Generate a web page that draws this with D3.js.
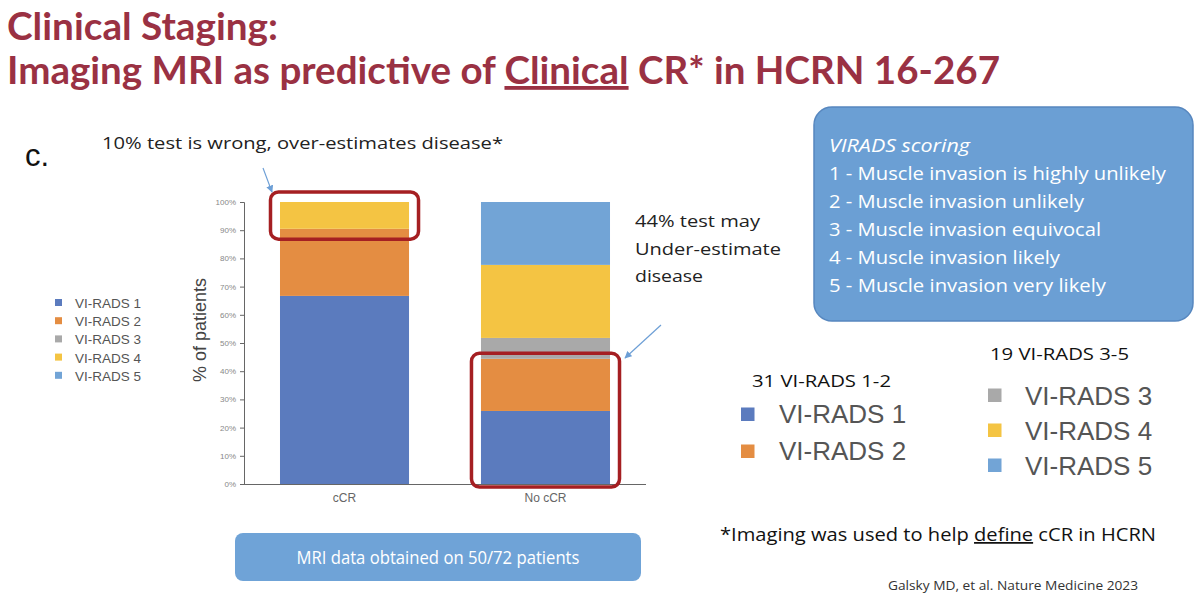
<!DOCTYPE html>
<html><head><meta charset="utf-8">
<script src="https://cdn.jsdelivr.net/npm/d3@7"></script>
<style>html,body{margin:0;padding:0;background:#fff;}svg{display:block;}</style>
</head><body>
<svg id="c" width="1200" height="597"></svg>
<script>
const categories = ["cCR", "No cCR"];
const seriesNames = ["VI-RADS 1", "VI-RADS 2", "VI-RADS 3", "VI-RADS 4", "VI-RADS 5"];
const vr1 = [66.7, 25.9];
const vr2 = [23.8, 18.5];
const vr3 = [0, 7.4];
const vr4 = [9.5, 25.9];
const vr5 = [0, 22.3];
const yTicks = [0,10,20,30,40,50,60,70,80,90,100];
const colors = ["#5b7bbe", "#e48d42", "#a9a9a9", "#f4c443", "#72a4d6"];
const virads = ["1 - Muscle invasion is highly unlikely","2 - Muscle invasion unlikely","3 - Muscle invasion equivocal","4 - Muscle invasion likely","5 - Muscle invasion very likely"];
const viradsWidths = [337, 255, 272, 231, 277];
const note2 = ["44% test may","Under-estimate","disease"];
const note2Widths = [125, 146, 68];

const svg = d3.select("#c");
const titleColor = "#9a3143";
const F = "'Lato', 'Open Sans', sans-serif";
const OS = "'Open Sans', 'Noto Sans', sans-serif";
const AR = "'Liberation Sans', Arial, sans-serif";

// Title
svg.append("text").attr("x",7).attr("y",40).attr("fill",titleColor)
  .attr("font-family",F).attr("font-weight","bold").attr("font-size",38)
  .attr("textLength",271).attr("lengthAdjust","spacingAndGlyphs").text("Clinical Staging:");
const t2 = svg.append("text").attr("x",7).attr("y",84).attr("fill",titleColor)
  .attr("font-family",F).attr("font-weight","bold").attr("font-size",38)
  .attr("textLength",993).attr("lengthAdjust","spacingAndGlyphs");
t2.append("tspan").text("Imaging MRI as predictive of ");
t2.append("tspan").attr("text-decoration","underline").text("Clinical");
t2.append("tspan").text(" CR* in HCRN 16-267");

// c.
svg.append("text").attr("x",25).attr("y",166).attr("font-family",AR)
  .attr("font-size",31).attr("fill","#111").text("c.");

// annotation 1
svg.append("text").attr("x",102).attr("y",149).attr("font-family",OS).attr("font-size",17)
  .attr("fill","#222").attr("textLength",401).attr("lengthAdjust","spacingAndGlyphs")
  .text("10% test is wrong, over-estimates disease*");

// Chart scales
const y = d3.scaleLinear().domain([0,100]).range([484,202]);
const xb = d3.scaleBand().domain(categories).range([179.5,710.5]).paddingInner(0.358).paddingOuter(0.5);

const data = categories.map((c,i)=>({cat:c, "VI-RADS 1":vr1[i], "VI-RADS 2":vr2[i], "VI-RADS 3":vr3[i], "VI-RADS 4":vr4[i], "VI-RADS 5":vr5[i]}));
const stack = d3.stack().keys(seriesNames)(data);

const g = svg.append("g");
stack.forEach((layer,li)=>{
  g.selectAll(null).data(layer).enter().append("rect")
    .attr("x",d=>xb(d.data.cat)).attr("width",xb.bandwidth())
    .attr("y",d=>y(d[1])).attr("height",d=>Math.max(0,y(d[0])-y(d[1])))
    .attr("fill",colors[li]);
});

const yAxis = svg.append("g").attr("transform","translate(244,0)")
  .call(d3.axisLeft(y).tickValues(yTicks).tickFormat(d=>d+"%").tickSize(4).tickPadding(4));
yAxis.select(".domain").attr("stroke","#666");
yAxis.selectAll(".tick line").attr("stroke","#666");
yAxis.selectAll("text").attr("font-family",AR).attr("font-size",8).attr("fill","#888");

const xAxis = svg.append("g").attr("transform","translate(0,484)")
  .call(d3.axisBottom(xb).tickSize(0).tickPadding(9));
xAxis.select(".domain").attr("stroke","#666").attr("d","M244,0.5H646");
xAxis.selectAll("text").attr("font-family",AR).attr("font-size",12).attr("fill","#666");

svg.append("text").attr("transform","translate(206,330) rotate(-90)").attr("text-anchor","middle")
  .attr("font-family",AR).attr("font-size",18).attr("fill","#444").text("% of patients");

// Red highlight boxes
const red = "#a51f22";
svg.append("rect").attr("x",xb("cCR")-9.5).attr("y",y(100)-10).attr("width",xb.bandwidth()+19).attr("height",y(90)-y(100)+19)
  .attr("rx",8).attr("fill","none").attr("stroke",red).attr("stroke-width",3.5);
svg.append("rect").attr("x",xb("No cCR")-9.5).attr("y",y(46)-1).attr("width",xb.bandwidth()+19).attr("height",y(0)-y(46)+4)
  .attr("rx",8).attr("fill","none").attr("stroke",red).attr("stroke-width",3.5);

// arrows
const defs = svg.append("defs");
defs.append("marker").attr("id","ah").attr("viewBox","0 0 10 10").attr("refX",9).attr("refY",5)
  .attr("markerWidth",6).attr("markerHeight",6).attr("orient","auto")
  .append("path").attr("d","M0,0L10,5L0,10z").attr("fill","#6d9fd6");
svg.append("line").attr("x1",263).attr("y1",168).attr("x2",272).attr("y2",192).attr("stroke","#6d9fd6").attr("stroke-width",1.2).attr("marker-end","url(#ah)");
svg.append("line").attr("x1",661).attr("y1",325).attr("x2",625).attr("y2",358).attr("stroke","#6d9fd6").attr("stroke-width",1.2).attr("marker-end","url(#ah)");

// annotation 2
note2.forEach((t,i)=>{
  svg.append("text").attr("x",635).attr("y",227+i*27.5).attr("font-family",OS).attr("font-size",17).attr("fill","#222")
    .attr("textLength",note2Widths[i]).attr("lengthAdjust","spacingAndGlyphs").text(t);
});

// left legend
seriesNames.forEach((s,i)=>{
  const yy = 303 + i*18.2;
  svg.append("rect").attr("x",55).attr("y",yy-4).attr("width",7).attr("height",7).attr("fill",colors[i]);
  svg.append("text").attr("x",75).attr("y",yy+5).attr("font-family",AR).attr("font-size",13.5).attr("fill","#555").text(s);
});

// VIRADS box
svg.append("rect").attr("x",814).attr("y",107).attr("width",379).attr("height",214).attr("rx",18)
  .attr("fill","#6b9fd4").attr("stroke","#5787bf").attr("stroke-width",1.5);
svg.append("text").attr("x",829).attr("y",152).attr("font-family",OS).attr("font-style","italic").attr("font-size",18).attr("fill","#fff")
  .attr("textLength",141).attr("lengthAdjust","spacingAndGlyphs").text("VIRADS scoring");
virads.forEach((t,i)=>{
  svg.append("text").attr("x",829).attr("y",180+i*28).attr("font-family",OS).attr("font-size",18.5).attr("fill","#fff")
    .attr("textLength",viradsWidths[i]).attr("lengthAdjust","spacingAndGlyphs").text(t);
});

// right legends
svg.append("text").attr("x",752).attr("y",387).attr("font-family",OS).attr("font-size",16.5).attr("fill","#111")
  .attr("textLength",139).attr("lengthAdjust","spacingAndGlyphs").text("31 VI-RADS 1-2");
svg.append("text").attr("x",990).attr("y",360).attr("font-family",OS).attr("font-size",16.5).attr("fill","#111")
  .attr("textLength",139).attr("lengthAdjust","spacingAndGlyphs").text("19 VI-RADS 3-5");
[[0,741,414],[1,741,451]].forEach(([i,xx,yy])=>{
  svg.append("rect").attr("x",xx).attr("y",yy-6.5).attr("width",13.5).attr("height",13.5).attr("fill",colors[i]);
  svg.append("text").attr("x",779).attr("y",yy+9).attr("font-family",AR).attr("font-size",26).attr("fill","#555").text(seriesNames[i]);
});
[[2,988,395],[3,988,430],[4,988,465]].forEach(([i,xx,yy])=>{
  svg.append("rect").attr("x",xx).attr("y",yy-6.5).attr("width",13.5).attr("height",13.5).attr("fill",colors[i]);
  svg.append("text").attr("x",1025).attr("y",yy+9.5).attr("font-family",AR).attr("font-size",26).attr("fill","#555").text(seriesNames[i]);
});

// bottom box
svg.append("rect").attr("x",235).attr("y",533).attr("width",406).attr("height",48).attr("rx",8).attr("fill","#6fa3d7");
svg.append("text").attr("x",438).attr("y",564).attr("text-anchor","middle").attr("font-family",OS).attr("font-size",18).attr("fill","#fff")
  .attr("textLength",283).attr("lengthAdjust","spacingAndGlyphs").text("MRI data obtained on 50/72 patients");

const fn = svg.append("text").attr("x",720).attr("y",541).attr("font-family",OS).attr("font-size",17.5).attr("fill","#111")
  .attr("textLength",436).attr("lengthAdjust","spacingAndGlyphs");
fn.append("tspan").text("*Imaging was used to help ");
fn.append("tspan").attr("text-decoration","underline").text("define");
fn.append("tspan").text(" cCR in HCRN");

svg.append("text").attr("x",888).attr("y",590).attr("font-family",OS).attr("font-size",12).attr("fill","#333")
  .attr("textLength",250).attr("lengthAdjust","spacingAndGlyphs").text("Galsky MD, et al. Nature Medicine 2023");
</script>
</body></html>
